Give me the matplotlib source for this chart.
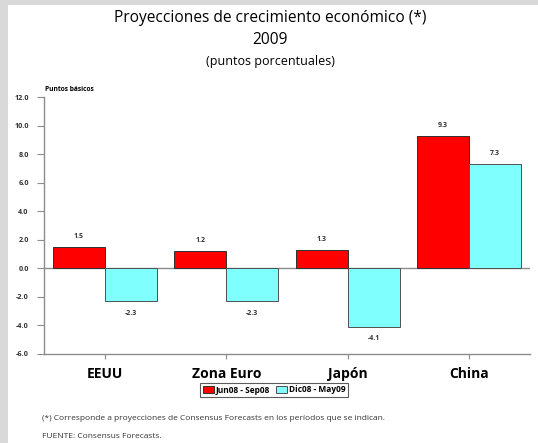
import numpy as np
import matplotlib.pyplot as plt
from matplotlib.patches import Rectangle

plt.rcParams['font.family'] = ['Open Sans', 'DejaVu Sans']

# datos
paises = ['EEUU', 'Zona Euro', 'Japón', 'China']
jun_sep08 = [1.5, 1.2, 1.3, 9.3]
dic08_may09 = [-2.3, -2.3, -4.1, 7.3]
series = ['Jun08 - Sep08', 'Dic08 - May09']
colores = ['#ff0000', '#80ffff']
yticks = [-6, -4, -2, 0, 2, 4, 6, 8, 10, 12]

fig = plt.figure(figsize=(5.38, 4.43), dpi=100)
fig.patch.set_facecolor('#d9d9d9')
fig.patches.append(Rectangle((8/538, 0), 1 - 8/538, 1 - 5/443,
                             transform=fig.transFigure, facecolor='white',
                             edgecolor='none', zorder=-10))

ax = fig.add_axes([44/538, 1 - 354/443, 486/538, 257/443])
ax.set_facecolor('none')

x = np.arange(len(paises))
w = 0.428
b1 = ax.bar(x - w/2, jun_sep08, w, color=colores[0], edgecolor='#303030',
            linewidth=0.7, label=series[0], zorder=2)
b2 = ax.bar(x + w/2, dic08_may09, w, color=colores[1], edgecolor='#505050',
            linewidth=0.7, label=series[1], zorder=2)

for bars, vals in [(b1, jun_sep08), (b2, dic08_may09)]:
    for r, v in zip(bars, vals):
        xc = r.get_x() + r.get_width()/2
        if v >= 0:
            ax.annotate(f'{v:.1f}', (xc, v), xytext=(0, 5), textcoords='offset points',
                        ha='center', va='bottom', fontsize=5, fontweight='bold', color='#333333')
        else:
            ax.annotate(f'{v:.1f}', (xc, v), xytext=(0, -6), textcoords='offset points',
                        ha='center', va='top', fontsize=5, fontweight='bold', color='#333333')

ax.axhline(0, color='#8c8c8c', linewidth=1.0, zorder=1)
ax.set_xlim(-0.5, len(paises) - 0.5)
ax.set_ylim(-6, 12)
ax.set_yticks(yticks)
ax.set_yticklabels([f'{t:.1f}' for t in yticks], fontsize=5.2, fontweight='bold', color='#333333')
ax.set_xticks(x)
ax.set_xticklabels(paises, fontsize=10, fontweight='bold')
ax.tick_params(axis='x', length=3.6, color='#8c8c8c', pad=6)
ax.tick_params(axis='y', length=5, color='#8c8c8c', pad=6)
for s in ['top', 'right']:
    ax.spines[s].set_visible(False)
for s in ['left', 'bottom']:
    ax.spines[s].set_color('#8c8c8c')
    ax.spines[s].set_linewidth(1.0)

ax.text(-0.49, 12.56, 'Puntos básicos', fontsize=4.8, fontweight='bold',
        ha='left', va='center')

fig.text(0.502, 1 - 18/443, 'Proyecciones de crecimiento económico (*)', ha='center',
         va='center', fontsize=11.2)
fig.text(0.502, 1 - 40/443, '2009', ha='center', va='center', fontsize=11.2)
fig.text(0.502, 1 - 61/443, '(puntos porcentuales)', ha='center', va='center', fontsize=9)

leg = fig.legend(loc='center', bbox_to_anchor=(274/538, 1 - 390/443), ncol=2,
                 fontsize=6, frameon=True, fancybox=False, edgecolor='#333333',
                 handlelength=1.3, handleheight=1.0, handletextpad=0.2,
                 columnspacing=0.8, borderpad=0.35, borderaxespad=0)
leg.get_frame().set_linewidth(0.8)
for t in leg.get_texts():
    t.set_fontweight('bold')

fig.text(42/538, 1 - 418/443,
         '(*) Corresponde a proyecciones de Consensus Forecasts en los períodos que se indican.',
         fontsize=6, va='center', ha='left', color='#333333')
fig.text(42/538, 1 - 436/443, 'FUENTE: Consensus Forecasts.', fontsize=6,
         va='center', ha='left', color='#333333')

fig.savefig('out.png', dpi=100, facecolor=fig.get_facecolor())
